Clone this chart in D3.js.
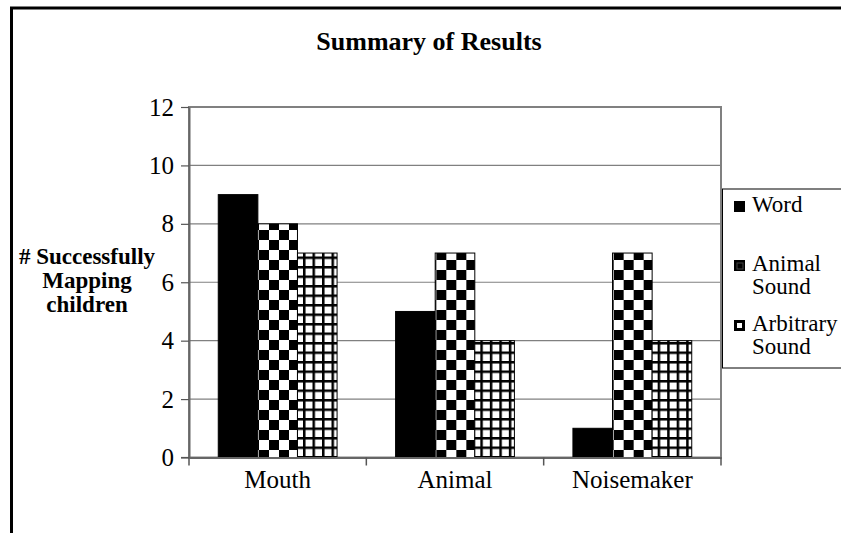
<!DOCTYPE html>
<html><head><meta charset="utf-8">
<script src="https://cdn.jsdelivr.net/npm/d3@7/dist/d3.min.js"></script>
<style>
html,body{margin:0;padding:0;background:#fff;}
</style></head>
<body>
<svg id="chart" width="841" height="533" style="font-family:'Liberation Serif'"></svg>
<script>
const categories = ["Mouth", "Animal", "Noisemaker"];
const seriesNames = ["Word", "Animal Sound", "Arbitrary Sound"];
const wordValues = [9, 5, 1];
const animalSoundValues = [8, 7, 7];
const arbitrarySoundValues = [7, 4, 4];
const yTicks = [0, 2, 4, 6, 8, 10, 12];

const FONT = '"Liberation Serif"';
const series = [
  {name: "Word", values: wordValues, fill: "#000"},
  {name: "Animal Sound", values: animalSoundValues, fill: "url(#checker)"},
  {name: "Arbitrary Sound", values: arbitrarySoundValues, fill: "url(#grid)"}
];

const svg = d3.select("#chart");
const defs = svg.append("defs");

const chk = defs.append("pattern").attr("id","checker").attr("patternUnits","userSpaceOnUse")
  .attr("width",20).attr("height",20);
chk.append("rect").attr("width",20).attr("height",20).attr("fill","#fff");
chk.append("rect").attr("x",0).attr("y",0).attr("width",10).attr("height",10).attr("fill","#000");
chk.append("rect").attr("x",10).attr("y",10).attr("width",10).attr("height",10).attr("fill","#000");

const grd = defs.append("pattern").attr("id","grid").attr("patternUnits","userSpaceOnUse")
  .attr("width",9.5).attr("height",9.5);
grd.append("rect").attr("width",9.5).attr("height",9.5).attr("fill","#000");
grd.append("rect").attr("x",2.5).attr("y",2.5).attr("width",7).attr("height",7).attr("fill","#fff");

svg.append("rect").attr("x",11.5).attr("y",8).attr("width",900).attr("height",600)
  .attr("fill","none").attr("stroke","#000").attr("stroke-width",3);

const plot = {left:189, right:721, top:107, bottom:457.5};

const x = d3.scaleBand().domain(categories).range([plot.left, plot.right]).paddingInner(0).paddingOuter(0);
const innerPad = 0.165;
const x1 = d3.scaleBand().domain(seriesNames)
  .range([x.bandwidth()*innerPad, x.bandwidth()*(1-innerPad)]);
const y = d3.scaleLinear().domain([0,12]).range([plot.bottom, plot.top]);

svg.append("g").selectAll("line").data(yTicks.filter(t=>t>0 && t<12)).join("line")
  .attr("x1",plot.left).attr("x2",plot.right).attr("y1",d=>y(d)).attr("y2",d=>y(d))
  .attr("stroke","#808080").attr("stroke-width",1.2);

svg.append("rect").attr("x",plot.left).attr("y",plot.top)
  .attr("width",plot.right-plot.left).attr("height",plot.bottom-plot.top)
  .attr("fill","none").attr("stroke","#808080").attr("stroke-width",2);

const groups = svg.append("g").selectAll("g").data(categories).join("g")
  .attr("transform", c => `translate(${x(c)},0)`);
series.forEach(s => {
  groups.append("rect")
    .attr("x", x1(s.name))
    .attr("width", x1.bandwidth())
    .attr("y", (c,i) => y(s.values[i]))
    .attr("height", (c,i) => y(0) - y(s.values[i]))
    .attr("fill", s.fill)
    .attr("stroke", "#000").attr("stroke-width", 1);
});

const yAxis = d3.axisLeft(y).tickValues(yTicks).tickSize(8).tickPadding(7).tickSizeOuter(0);
const gy = svg.append("g").attr("transform",`translate(${plot.left},0)`).call(yAxis);
gy.attr("font-family","Liberation Serif").style("font-family",FONT);
gy.select(".domain").attr("stroke","#666").attr("stroke-width",2);
gy.selectAll(".tick line").attr("stroke","#555").attr("stroke-width",1.2);
gy.selectAll(".tick text").attr("font-size",25).attr("fill","#000")
  .attr("font-family","Liberation Serif").style("font-family",FONT);

const xAxis = d3.axisBottom(x).tickSize(0).tickPadding(13);
const gx = svg.append("g").attr("transform",`translate(0,${plot.bottom})`).call(xAxis);
gx.attr("font-family","Liberation Serif").style("font-family",FONT);
gx.select(".domain").attr("stroke","#666").attr("stroke-width",2);
gx.selectAll(".tick text").attr("font-size",25).attr("fill","#000")
  .attr("font-family","Liberation Serif").style("font-family",FONT);
const bounds = categories.map(c=>x(c)).concat([x(categories[categories.length-1])+x.bandwidth()]);
gx.selectAll(".bt").data(bounds).join("line").attr("class","bt")
  .attr("x1",d=>d).attr("x2",d=>d).attr("y1",0).attr("y2",8)
  .attr("stroke","#555").attr("stroke-width",1.5);
svg.append("line").attr("x1",plot.left-8).attr("x2",plot.left).attr("y1",plot.bottom).attr("y2",plot.bottom)
  .attr("stroke","#555").attr("stroke-width",1.2);

svg.append("text").attr("x",429).attr("y",50).attr("text-anchor","middle")
  .attr("font-weight","bold").attr("font-size",26).style("font-family",FONT).text("Summary of Results");

const yl = svg.append("text").attr("text-anchor","middle").attr("font-weight","bold").attr("font-size",23)
  .style("font-family",FONT);
["# Successfully","Mapping","children"].forEach((t,i)=>{
  yl.append("tspan").attr("x",87).attr("y",264+i*24).style("font-family",FONT).text(t);
});

const lg = svg.append("g").style("font-family",FONT);
lg.append("rect").attr("x",722.5).attr("y",189).attr("width",140).attr("height",179)
  .attr("fill","#fff").attr("stroke","#000").attr("stroke-width",1);
const legendLines = [["Word"],["Animal","Sound"],["Arbitrary","Sound"]];
const legendY = [212, 271, 331];
series.forEach((s,i)=>{
  const sw = lg.append("g");
  sw.append("rect").attr("x",734).attr("y",legendY[i]-11).attr("width",11).attr("height",11)
    .attr("fill","#000");
  if(i===1){
    sw.append("rect").attr("x",737).attr("y",legendY[i]-8).attr("width",6).attr("height",6)
      .attr("fill","none").attr("stroke","#444").attr("stroke-width",1);
  }
  if(i===2){
    sw.append("rect").attr("x",737).attr("y",legendY[i]-8).attr("width",5).attr("height",5)
      .attr("fill","#fff");
  }
  const t = lg.append("text").attr("font-size",23).attr("font-family","Liberation Serif").style("font-family",FONT);
  legendLines[i].forEach((ln,j)=>{
    t.append("tspan").attr("x",752).attr("y",legendY[i]+j*23).style("font-family",FONT).text(ln);
  });
});
</script>
</body></html>
